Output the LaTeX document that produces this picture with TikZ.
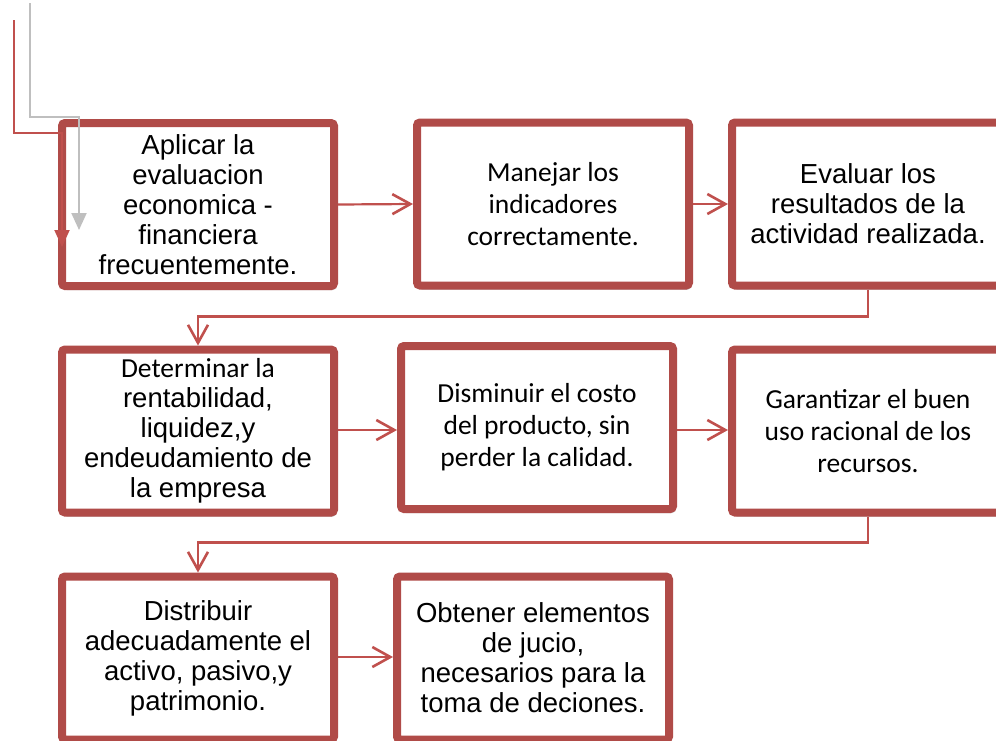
\documentclass[tikz,border=0pt]{standalone}
\usepackage{fontspec}
\setmainfont{Liberation Sans}
\newfontfamily\calibri{Carlito}
\usepackage{tikz}
\usetikzlibrary{arrows.meta,shadows}

\definecolor{boxred}{HTML}{B04B48}
\definecolor{linkred}{HTML}{C0504D}
\definecolor{linkgray}{HTML}{BFBFBF}

\tikzset{
  flowbox/.style={draw=boxred, line width=8pt, rounded corners=3pt, fill=white,
    minimum width=272pt, minimum height=163pt, inner sep=0pt, align=center,
    font=\fontsize{27.5}{30}\selectfont,
    drop shadow={shadow xshift=2pt, shadow yshift=-4pt, opacity=0.25, fill=black}},
  calibox/.style={flowbox, font=\calibri\fontsize{27.5}{32}\selectfont},
  flowarrow/.style={draw=linkred, line width=2.2pt,
    -{Straight Barb[length=18pt, width=20pt, line width=2.6pt]}},
  inarrow/.style={line width=2pt, -{Triangle[length=17pt, width=15pt]}}
}

\begin{document}
\begin{tikzpicture}[x=1pt, y=-1pt]
  \clip (0,0) rectangle (996,740);
  \useasboundingbox (0,0) rectangle (996,740);

  \node[flowbox] (aplicar) at (198,204.5) {Aplicar la\\evaluacion\\economica -\\financiera\\frecuentemente.};
  \node[calibox] (manejar) at (553,204) {Manejar los\\indicadores\\correctamente.};
  \node[flowbox] (evaluar) at (868,204) {Evaluar los\\resultados de la\\actividad realizada.};

  \node[flowbox] (determinar) at (198,431) {{\calibri Determinar la}\\rentabilidad,\\liquidez,y\\endeudamiento de\\la empresa};
  \node[calibox] (disminuir) at (537,427.5) {Disminuir el costo\\del producto, sin\\perder la calidad.};
  \node[calibox] (garantizar) at (868,431) {Garantizar el buen\\uso racional de los\\recursos.};

  \node[flowbox] (distribuir) at (198,658) {Distribuir\\adecuadamente el\\activo, pasivo,y\\patrimonio.};
  \node[flowbox] (obtener) at (533,658) {Obtener elementos\\de jucio,\\necesarios para la\\toma de deciones.};

  \draw[flowarrow] (aplicar.east) -- (manejar.west);
  \draw[flowarrow] (manejar.east) -- (evaluar.west);
  \draw[flowarrow] (evaluar.south) -- ++(0,27) -| (determinar.north);
  \draw[flowarrow] (determinar.east |- 0,430) -- (disminuir.west |- 0,430);
  \draw[flowarrow] (disminuir.east |- 0,430) -- (garantizar.west |- 0,430);
  \draw[flowarrow] (garantizar.south) -- ++(0,26) -| (distribuir.north);
  \draw[flowarrow] (distribuir.east |- 0,657) -- (obtener.west |- 0,657);

  \coordinate (rojo) at (14,20);
  \coordinate (gris) at (30,3);
  \draw[inarrow, linkgray] (gris) |- ([xshift=21pt, yshift=2pt]aplicar.north west)
    -- ([xshift=21pt, yshift=60pt]aplicar.south west);
  \draw[inarrow, linkred] (rojo) |- ([xshift=4pt, yshift=-14pt]aplicar.north west)
    -- ([xshift=4pt, yshift=43pt]aplicar.south west);
\end{tikzpicture}
\end{document}
